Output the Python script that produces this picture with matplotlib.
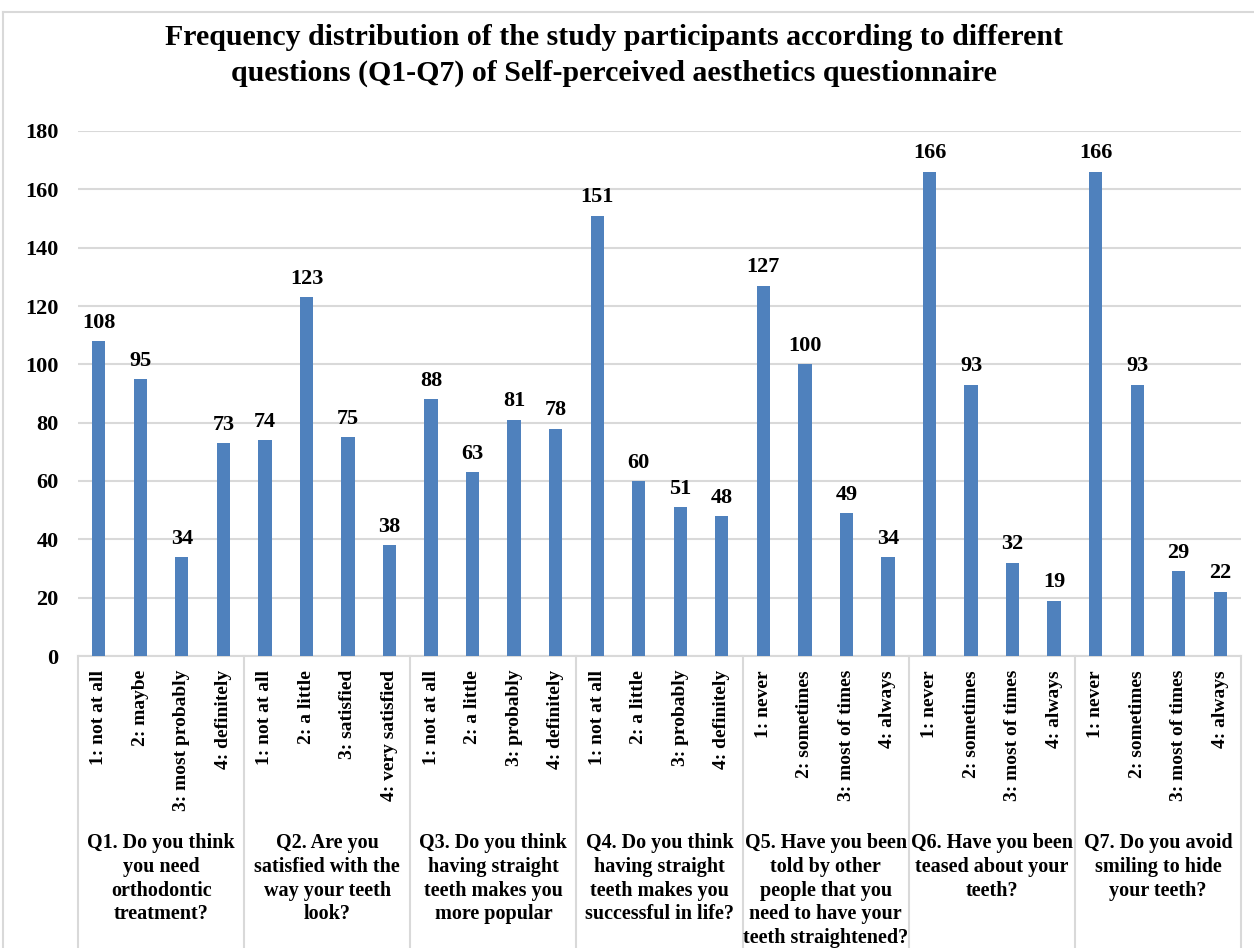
import numpy as np
import matplotlib.pyplot as plt
from matplotlib.lines import Line2D

plt.rcParams['font.family'] = ['Liberation Serif', 'DejaVu Serif']
plt.rcParams['font.weight'] = 'bold'

# Ответы по каждому вопросу
questions = [
    "Q1. Do you think\nyou need\northodontic\ntreatment?",
    "Q2. Are you\nsatisfied with the\nway your teeth\nlook?",
    "Q3. Do you think\nhaving straight\nteeth makes you\nmore popular",
    "Q4. Do you think\nhaving straight\nteeth makes you\nsuccessful in life?",
    "Q5. Have you been\ntold by other\npeople that you\nneed to have your\nteeth straightened?",
    "Q6. Have you been\nteased about your\nteeth?",
    "Q7. Do you avoid\nsmiling to hide\nyour teeth?",
]
q1_labels = ["1: not at all", "2: maybe", "3: most probably", "4: definitely"]
q2_labels = ["1: not at all", "2: a little", "3: satisfied", "4: very satisfied"]
q34_labels = ["1: not at all", "2: a little", "3: probably", "4: definitely"]
freq_labels = ["1: never", "2: sometimes", "3: most of times", "4: always"]
answer_labels = q1_labels + q2_labels + q34_labels + q34_labels + freq_labels * 3

q1 = [108, 95, 34, 73]
q2 = [74, 123, 75, 38]
q3 = [88, 63, 81, 78]
q4 = [151, 60, 51, 48]
q5 = [127, 100, 49, 34]
q6 = [166, 93, 32, 19]
q7 = [166, 93, 29, 22]
counts = q1 + q2 + q3 + q4 + q5 + q6 + q7

W, H = 1254, 948
fig = plt.figure(figsize=(W / 100, H / 100), dpi=100)
ax = fig.add_axes([78 / W, 1 - 656 / H, (1241 - 78) / W, (656 - 131) / H])

x = np.arange(len(counts))
bars = ax.bar(x, counts, width=0.32, color='#4F81BD', zorder=3)
for b, v in zip(bars, counts):
    ax.annotate(str(v), (b.get_x() + b.get_width() / 2, v), xytext=(0, 6),
                textcoords='offset points', ha='center', va='bottom',
                fontsize=16, fontweight='bold')

ax.set_xlim(-0.5, len(counts) - 0.5)
ax.set_ylim(0, 180)
ax.set_yticks(range(0, 181, 20))
ax.tick_params(axis='y', length=0, pad=14, labelsize=16)
ax.grid(axis='y', color='#D9D9D9', linewidth=1.5, zorder=0)
for s in ['top', 'right', 'left']:
    ax.spines[s].set_visible(False)
ax.spines['bottom'].set_color('#D9D9D9')
ax.spines['bottom'].set_linewidth(1.5)

ax.set_xticks(x)
ax.set_xticklabels(answer_labels, rotation=90, fontsize=14, va='top')
ax.tick_params(axis='x', length=0, pad=10)

# Подписи групп и разделители
trans = ax.get_xaxis_transform()
for i, q in enumerate(questions):
    ax.text(i * 4 + 1.5, -0.338, q, transform=trans, ha='center', va='top',
            fontsize=14.5, fontweight='bold', linespacing=1.24)
for k in range(len(questions) + 1):
    ax.add_line(Line2D([k * 4 - 0.5, k * 4 - 0.5], [0, -0.56], transform=trans,
                       color='#D9D9D9', linewidth=1.5, clip_on=False))

# Рамка диаграммы
fig.add_artist(Line2D([3 / W, 1], [1 - 12 / H, 1 - 12 / H], color='#D9D9D9', linewidth=1.5))
fig.add_artist(Line2D([3 / W, 3 / W], [0, 1 - 12 / H], color='#D9D9D9', linewidth=1.5))

fig.text(614 / W, 1 - 24 / H,
         "Frequency distribution of the study participants according to different\n"
         "questions (Q1-Q7) of Self-perceived aesthetics questionnaire",
         ha='center', va='top', fontsize=21.5, fontweight='bold', linespacing=1.42)

fig.savefig('out.png', dpi=100)
